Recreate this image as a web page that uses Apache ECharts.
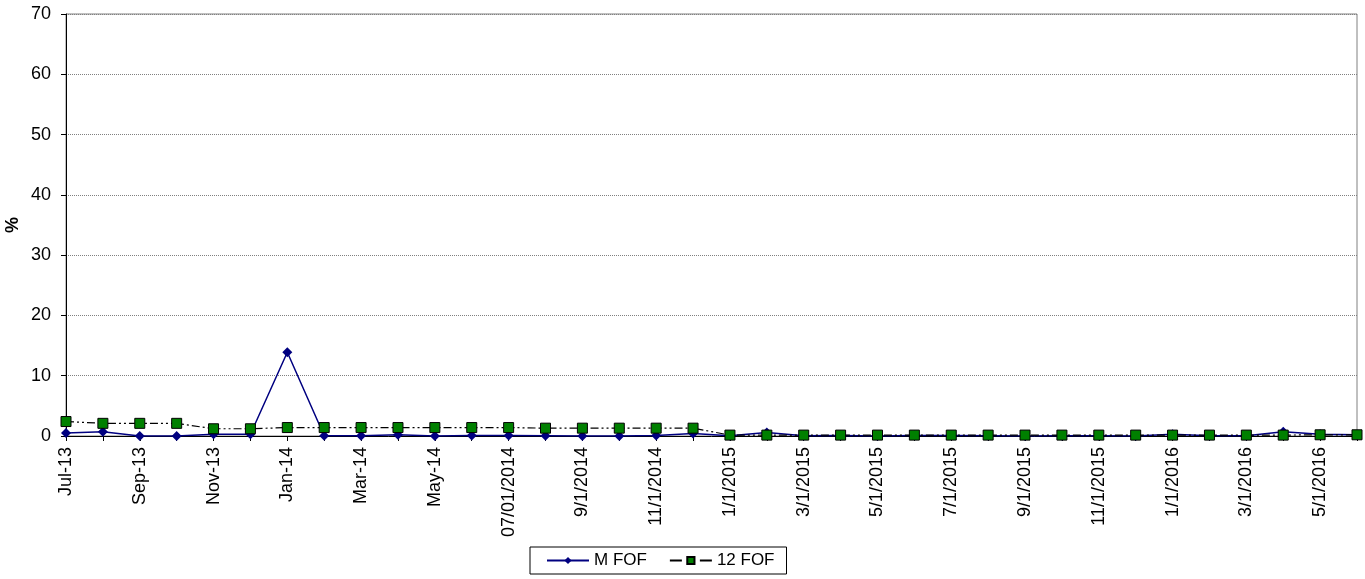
<!DOCTYPE html>
<html>
<head>
<meta charset="utf-8">
<script src="https://cdn.jsdelivr.net/npm/echarts@6/dist/echarts.min.js"></script>
<style>
  html, body { margin: 0; padding: 0; background: #ffffff; }
  #chart { width: 1365px; height: 579px; }
</style>
</head>
<body>
<div id="chart"></div>
<script>
// Monthly categories, Jul-13 to Jun-16
const categories = [
  'Jul-13', 'Aug-13', 'Sep-13', 'Oct-13', 'Nov-13', 'Dec-13',
  'Jan-14', 'Feb-14', 'Mar-14', 'Apr-14', 'May-14', 'Jun-14',
  '07/01/2014', '8/1/2014', '9/1/2014', '10/1/2014', '11/1/2014', '12/1/2014',
  '1/1/2015', '2/1/2015', '3/1/2015', '4/1/2015', '5/1/2015', '6/1/2015',
  '7/1/2015', '8/1/2015', '9/1/2015', '10/1/2015', '11/1/2015', '12/1/2015',
  '1/1/2016', '2/1/2016', '3/1/2016', '4/1/2016', '5/1/2016', '6/1/2016'
];

const mFof = [
  0.5, 0.7, 0.0, 0.0, 0.3, 0.3,
  13.9, 0.05, 0.05, 0.2, 0.0, 0.1,
  0.1, 0.05, 0.0, 0.0, 0.1, 0.4,
  0.05, 0.6, 0.05, 0.1, 0.0, 0.1,
  0.1, 0.05, 0.0, 0.05, 0.05, 0.0,
  0.3, 0.05, 0.05, 0.7, 0.3, 0.2
];

const twelveFof = [
  2.4, 2.1, 2.1, 2.1, 1.2, 1.2,
  1.4, 1.4, 1.4, 1.4, 1.4, 1.4,
  1.4, 1.3, 1.3, 1.3, 1.3, 1.3,
  0.15, 0.15, 0.15, 0.15, 0.15, 0.15,
  0.15, 0.15, 0.15, 0.15, 0.15, 0.15,
  0.15, 0.15, 0.15, 0.15, 0.2, 0.2
];

const yTicks = { min: 0, max: 70, step: 10 };

const font = '"Liberation Sans", Arial, sans-serif';
const axisFontSize = 18;
const legendFontSize = 17;

const chart = echarts.init(document.getElementById('chart'), null, { renderer: 'canvas' });

chart.setOption({
  animation: false,
  backgroundColor: '#ffffff',
  textStyle: { fontFamily: font },
  grid: {
    left: 66, right: 8, top: 14, bottom: 143,
    outerBoundsMode: 'none',
    containLabel: false,
    show: true, borderColor: '#808080', borderWidth: 1, backgroundColor: 'transparent'
  },
  legend: {
    top: 547,
    left: 530,
    itemWidth: 42,
    itemHeight: 9,
    itemGap: 22,
    padding: [5, 12, 5, 16],
    borderColor: '#000000',
    borderWidth: 1,
    textStyle: { fontFamily: font, fontSize: legendFontSize, color: '#000000' },
    data: [
      { name: 'M FOF' },
      // legend swatch: short dash, marker, short dash
      { name: '12 FOF', lineStyle: { type: [12, 18, 12] } }
    ]
  },
  xAxis: {
    type: 'category',
    data: categories,
    boundaryGap: false,
    axisLine: { lineStyle: { color: '#000000', width: 1 } },
    axisTick: { show: true, alignWithLabel: true, interval: 0, length: 5, lineStyle: { color: '#000000' } },
    axisLabel: {
      interval: 1,
      rotate: 90,
      fontSize: axisFontSize,
      color: '#000000',
      fontFamily: font,
      margin: 11
    },
    splitLine: { show: false }
  },
  yAxis: {
    type: 'value',
    min: yTicks.min,
    max: yTicks.max,
    interval: yTicks.step,
    name: '%',
    nameLocation: 'middle',
    nameGap: 44,
    nameMoveOverlap: false,
    nameRotate: 90,
    nameTextStyle: { fontFamily: font, fontSize: axisFontSize, fontWeight: 'bold', color: '#000000' },
    axisLine: { show: true, lineStyle: { color: '#000000', width: 1 } },
    axisTick: { show: true, length: 5, lineStyle: { color: '#000000' } },
    axisLabel: { fontSize: axisFontSize, color: '#000000', fontFamily: font, margin: 15 },
    splitLine: { show: true, lineStyle: { color: '#808080', type: [1, 1], width: 1 } }
  },
  series: [
    {
      name: 'M FOF',
      type: 'line',
      data: mFof,
      symbol: 'diamond',
      symbolSize: 10,
      itemStyle: { color: '#000080' },
      lineStyle: { color: '#000080', width: 1.5 },
      z: 3
    },
    {
      name: '12 FOF',
      type: 'line',
      data: twelveFof,
      symbol: 'rect',
      symbolSize: 10,
      itemStyle: { color: '#008000', borderColor: '#000000', borderWidth: 1 },
      lineStyle: { color: '#000000', width: 1.2, type: [8, 3, 2, 3, 2, 3] },
      z: 4
    }
  ]
});
</script>
</body>
</html>
